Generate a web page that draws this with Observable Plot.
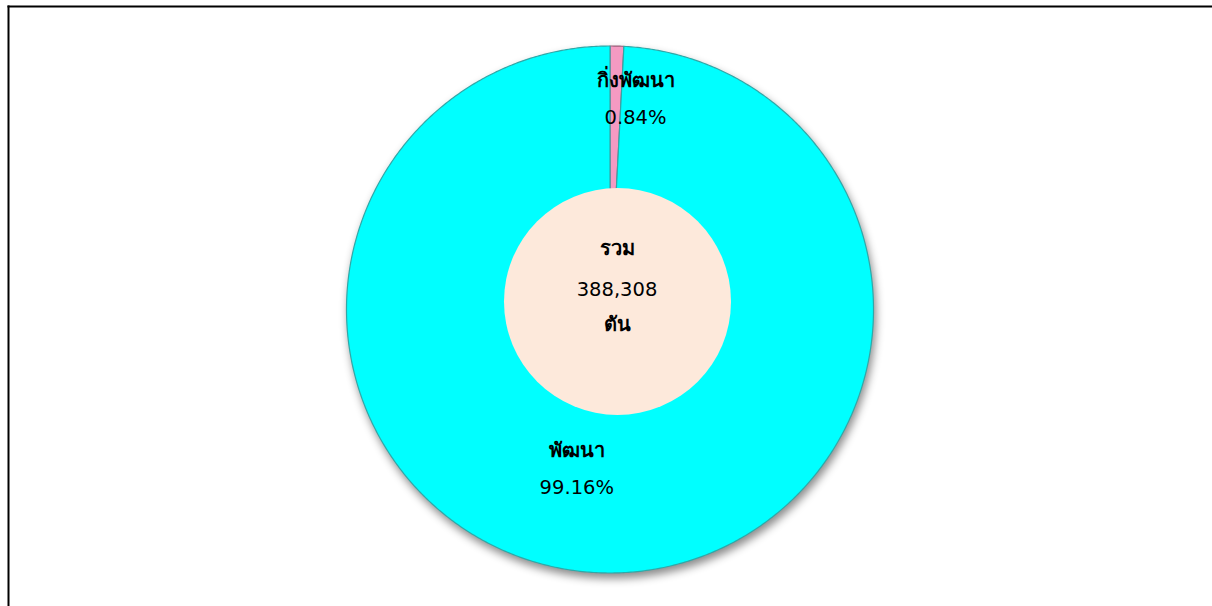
<!DOCTYPE html>
<html>
<head>
<meta charset="utf-8">
<script src="https://cdn.jsdelivr.net/npm/d3@7"></script>
<script src="https://cdn.jsdelivr.net/npm/@observablehq/plot@0.6"></script>
<style>
  html, body { margin: 0; padding: 0; background: #fff; }
  .slices { filter: drop-shadow(2px 5px 4px rgba(0,0,0,0.45)); }
</style>
</head>
<body>
<div id="chart"></div>
<script>
// ---- data ----
const categories = ["กิ่งพัฒนา", "พัฒนา"];
const shares = [0.84, 99.16];            // percent
const sliceColors = ["#F49AC2", "#00FFFF"];
const sliceStrokes = ["#9A5E78", "#2FA8A8"];
const totalTitle = "รวม";
const totalValue = "388,308";
const totalUnit = "ตัน";

// ---- layout helpers ----
const W = 1212, H = 606;
const cx = 609.5, cy = 309, R = 263.5;

const pie = d3.pie().sort(null).value(d => d.value).startAngle(0).endAngle(2 * Math.PI);
const arcs = pie(categories.map((c, i) => ({name: c, value: shares[i], i})));

// polygon outline of each slice (unit circle coordinates, y up, angle clockwise from top)
const poly = [];
arcs.forEach(a => {
  const steps = Math.max(4, Math.ceil((a.endAngle - a.startAngle) / (Math.PI / 360)));
  poly.push({name: a.data.name, i: a.data.i, x: 0, y: 0});
  for (let k = 0; k <= steps; k++) {
    const t = a.startAngle + (a.endAngle - a.startAngle) * k / steps;
    poly.push({name: a.data.name, i: a.data.i, x: Math.sin(t), y: Math.cos(t)});
  }
  poly.push({name: a.data.name, i: a.data.i, x: 0, y: 0});
});

// slice labels near mid-angle, nudged like the original
const labelRadius = [0.80, 0.605];
const labelNudge = [20, -29];   // px, horizontal
const labels = arcs.map(a => {
  const m = (a.startAngle + a.endAngle) / 2;
  const r = labelRadius[a.data.i];
  return {
    i: a.data.i,
    x: r * Math.sin(m) + labelNudge[a.data.i] / R,
    y: r * Math.cos(m),
    name: a.data.name,
    pct: shares[a.data.i].toFixed(2) + "%"
  };
});

const chart = Plot.plot({
  width: W, height: H,
  marginLeft: 8, marginTop: 6, marginRight: 0, marginBottom: 0,
  style: {fontFamily: "Tahoma, 'DejaVu Sans', 'Noto Sans', sans-serif", background: "#fff", overflow: "visible"},
  x: {domain: [-1, 1], range: [cx - R, cx + R], axis: null},
  y: {domain: [-1, 1], range: [cy + R, cy - R], axis: null},
  marks: [
    Plot.frame({anchor: "left", stroke: "#000", strokeWidth: 2}),
    Plot.frame({anchor: "top", stroke: "#000", strokeWidth: 2}),
    Plot.line(poly, {
      x: "x", y: "y", z: "name",
      fill: d => sliceColors[d.i], stroke: d => sliceStrokes[d.i],
      strokeWidth: 1.2, curve: "linear", className: "slices"
    }),
    Plot.dot([{x: 0, y: 0}], {
      x: "x", y: "y", r: 113.5, dx: 7.5, dy: -8,
      fill: "#FDE9DB", stroke: "none"
    }),
    // centre total
    Plot.text([totalTitle], {x: () => 0, y: () => 0, text: d => d, dx: 7, dy: -61, fontSize: 20, fontWeight: "bold", fill: "#000"}),
    Plot.text([totalValue], {x: () => 0, y: () => 0, text: d => d, dx: 7, dy: -20, fontSize: 19.5, fill: "#000"}),
    Plot.text([totalUnit], {x: () => 0, y: () => 0, text: d => d, dx: 7, dy: 15, fontSize: 20, fontWeight: "bold", fill: "#000"}),
    // slice labels
    Plot.text(labels, {x: "x", y: "y", text: "name", dy: -18, fontSize: 20, fontWeight: "bold", fill: "#000"}),
    Plot.text(labels, {x: "x", y: "y", text: "pct", dy: 19, fontSize: 19.5, fill: "#000"})
  ]
});
document.getElementById("chart").appendChild(chart);
</script>
</body>
</html>
